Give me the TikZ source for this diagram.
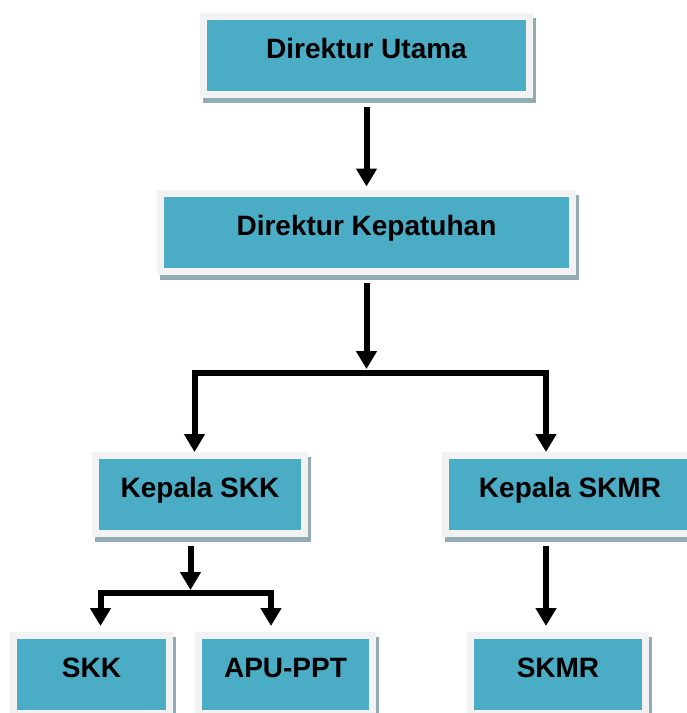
\documentclass[tikz,border=0pt]{standalone}
\usepackage{fontspec}
\setmainfont{Liberation Sans}
\usetikzlibrary{arrows.meta,shadows}
\definecolor{teal1}{HTML}{4BACC6}
\definecolor{frame1}{HTML}{F2F2F2}
\definecolor{shad1}{HTML}{93ABB5}
\begin{document}
\begin{tikzpicture}[x=1pt,y=-1pt,
  orgbox/.style={draw=frame1, fill=teal1, line width=7pt, inner sep=0pt,
    text height=42pt, text depth=36pt,
    font=\bfseries\fontsize{28}{30}\selectfont,
    general shadow={shadow xshift=3pt, shadow yshift=-5pt, fill=shad1, draw=shad1}},
  conn/.style={line width=6pt, line join=miter, -{Triangle[width=20pt,length=18pt]}}]
\useasboundingbox (0,0) rectangle (687,713);
% nodes
\node[orgbox, minimum width=326pt] (du) at (366.5,55.5) {Direktur Utama};
\node[orgbox, minimum width=412pt] (dk) at (366.5,232.5) {Direktur Kepatuhan};
\node[orgbox, minimum width=209pt] (kskk) at (200,494.5) {Kepala SKK};
\node[orgbox, minimum width=249pt] (kskmr) at (570,494.5) {Kepala SKMR};
\node[orgbox, minimum width=156pt] (skk) at (91.5,674) {SKK};
\node[orgbox, minimum width=174pt] (apu) at (285.5,674) {APU-PPT};
\node[orgbox, minimum width=175pt] (skmr) at (558,674) {SKMR};
% junctions
\coordinate (b1) at (366.5,372.5);
\coordinate (lt) at (194.5,452);
\coordinate (rt) at (546,452);
\coordinate (b2) at (190.5,593);
\coordinate (lt2) at (100.5,626);
\coordinate (rt2) at (271,626);
\coordinate (t3) at (546,626);
% connectors
\draw[conn, shorten <=8.5pt, shorten >=3.5pt] (du) -- (dk);
\draw[conn, shorten <=7.5pt, shorten >=3.5pt] (dk.south) -- (b1);
\draw[conn] (b1) -| (lt);
\draw[conn] (b1) -| (rt);
\draw[conn, shorten <=8.5pt, shorten >=3pt] (kskk.south -| b2) -- (b2);
\draw[conn] (b2) -| (lt2);
\draw[conn] (b2) -| (rt2);
\draw[conn, shorten <=8.5pt] (kskmr.south -| t3) -- (t3);
\end{tikzpicture}
\end{document}
